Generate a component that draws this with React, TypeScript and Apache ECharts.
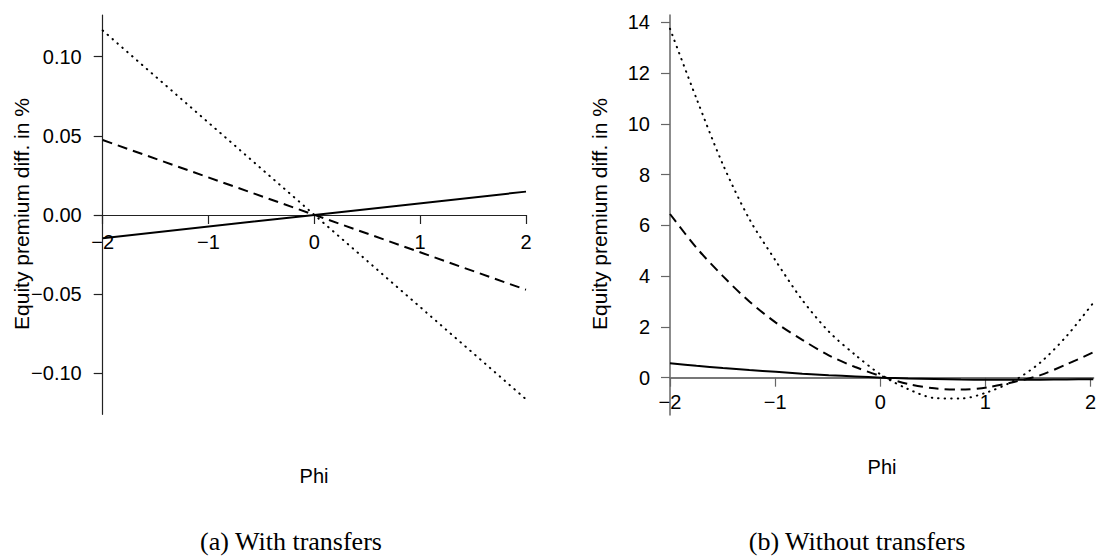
import React, { useEffect, useRef } from "react";
import * as echarts from "echarts";

// Panel (a): with transfers
const phiLeft = [-2, 0, 2];
const leftSolid = [-0.0147, 0, 0.0147];
const leftDashed = [0.0473, 0, -0.0473];
const leftDotted = [0.1165, 0, -0.1165];
const leftYTicks = [-0.1, -0.05, 0, 0.05, 0.1];

// Panel (b): without transfers
const phiRight = [-2, -1.75, -1.5, -1.25, -1, -0.75, -0.5, -0.25, 0, 0.25, 0.5, 0.75, 1, 1.25, 1.5, 1.75, 2];
const rightSolid = [0.57, 0.47, 0.38, 0.3, 0.23, 0.16, 0.1, 0.05, 0.0, -0.03, -0.05, -0.07, -0.08, -0.08, -0.08, -0.07, -0.06];
const rightDashed = [6.45, 5.12, 4.0, 3.0, 2.17, 1.49, 0.88, 0.42, 0.05, -0.25, -0.42, -0.47, -0.38, -0.17, 0.1, 0.53, 1.0];
const rightDotted = [13.75, 11.0, 8.4, 6.25, 4.6, 3.06, 1.82, 0.9, 0.1, -0.45, -0.8, -0.82, -0.57, -0.12, 0.6, 1.65, 2.95];
const rightYTicks = [0, 2, 4, 6, 8, 10, 12, 14];

const xMin = -2;
const xMax = 2;
const xStep = 1;

const yTitle = "Equity premium diff. in %";
const xTitle = "Phi";
const captionA = "(a) With transfers";
const captionB = "(b) Without transfers";

const SANS = "Liberation Sans, Arial, Helvetica, sans-serif";
const SERIF = "Liberation Serif, Times New Roman, serif";

const minus = (s: string) => s.replace("-", "\u2212");

const pairs = (xs: number[], ys: number[]) => xs.map((x, i) => [x, ys[i]]);

export default function App() {
  const ref = useRef<HTMLDivElement>(null);
  useEffect(() => {
    if (!ref.current) return;
    const chart = echarts.init(ref.current, undefined, { renderer: "svg" });

    // main x axis: only the line at y = 0
    const makeX = (gridIndex: number, color: string, width: number) => ({
      type: "value",
      gridIndex,
      min: xMin,
      max: xMax,
      interval: xStep,
      axisLine: { show: true, onZero: true, lineStyle: { color, width } },
      axisTick: { show: false },
      axisLabel: { show: false },
      splitLine: { show: false },
    });

    // tick/label x axis drawn along the zero line (bottom of a helper grid)
    const makeTickX = (gridIndex: number, color: string, margin: number) => ({
      type: "value",
      gridIndex,
      min: xMin,
      max: xMax,
      interval: xStep,
      position: "bottom",
      axisLine: { show: false, onZero: false },
      axisTick: { show: true, inside: false, length: 9, lineStyle: { color, width: 1.2 } },
      axisLabel: {
        show: true,
        margin,
        color: "#000",
        fontFamily: SANS,
        fontSize: 20,
        showMinLabel: true,
        showMaxLabel: true,
        formatter: (v: number) => minus(String(v)),
      },
      splitLine: { show: false },
    });

    const makeY = (gridIndex: number, min: number, max: number, ticks: number[], color: string, width: number, margin: number, digits: number) => ({
      type: "value",
      gridIndex,
      min,
      max,
      axisLine: { show: true, onZero: false, lineStyle: { color, width } },
      axisTick: { show: true, inside: false, length: 9, customValues: ticks, lineStyle: { color, width: 1.2 } },
      axisLabel: {
        show: true,
        customValues: ticks,
        margin,
        color: "#000",
        fontFamily: SANS,
        fontSize: 20,
        showMinLabel: true,
        showMaxLabel: true,
        formatter: (v: number) => minus(v.toFixed(digits)),
      },
      splitLine: { show: false },
    });

    const hiddenY = (gridIndex: number) => ({
      type: "value",
      gridIndex,
      min: 0,
      max: 1,
      show: false,
      splitLine: { show: false },
    });

    const line = (xi: number, data: number[][], type: any, width: number, cap: string = "butt", smooth: boolean = false) => ({
      type: "line",
      xAxisIndex: xi,
      yAxisIndex: xi,
      data,
      showSymbol: false,
      symbol: "none",
      smooth: smooth ? 0.3 : false,
      lineStyle: { color: "#000", width, type, cap },
      z: 3,
    });

    const titleText = (x: number, y: number, text: string, rot: number, font: string, size: number) => ({
      type: "text",
      x,
      y,
      rotation: rot,
      style: {
        text,
        fill: "#000",
        font: `${size}px ${font}`,
        align: "center",
        verticalAlign: "middle",
      },
    });

    chart.setOption({
      animation: false,
      backgroundColor: "#fff",
      grid: [
        { left: 102.7, top: 15, width: 423.3, height: 399.3 },
        { left: 670, top: 15, width: 423.3, height: 400 },
        { left: 102.7, top: 15, width: 423.3, height: 200 },
        { left: 670, top: 15, width: 423.3, height: 362.7 },
      ],
      xAxis: [
        makeX(0, "#222", 1.2),
        makeX(1, "#777", 2),
        makeTickX(2, "#222", 17),
        makeTickX(3, "#666", 14),
      ],
      yAxis: [
        makeY(0, -0.126, 0.1263, leftYTicks, "#222", 1.2, 21, 2),
        makeY(1, -1.47, 14.29, rightYTicks, "#666", 1.5, 20, 0),
        hiddenY(2),
        hiddenY(3),
      ],
      series: [
        line(0, pairs(phiLeft, leftSolid), "solid", 2),
        line(0, pairs(phiLeft, leftDashed), [10, 6], 2),
        line(0, pairs(phiLeft, leftDotted), [0.5, 6], 2, "round"),
        line(1, pairs(phiRight, rightSolid), "solid", 2, "butt", true),
        line(1, pairs(phiRight, rightDashed), [10, 6], 2, "butt", true),
        line(1, pairs(phiRight, rightDotted), [0.5, 6], 2, "round", true),
      ],
      graphic: [
        titleText(21, 214, yTitle, Math.PI / 2, SANS, 21),
        titleText(599, 214, yTitle, Math.PI / 2, SANS, 21),
        titleText(314, 476, xTitle, 0, SANS, 20),
        titleText(882, 467, xTitle, 0, SANS, 20),
        titleText(291, 541, captionA, 0, SERIF, 26),
        titleText(857, 541, captionB, 0, SERIF, 26),
      ],
    });
    return () => chart.dispose();
  }, []);
  return <div ref={ref} style={{ position: "fixed", left: 0, top: 0, width: 1099, height: 556 }} />;
}
